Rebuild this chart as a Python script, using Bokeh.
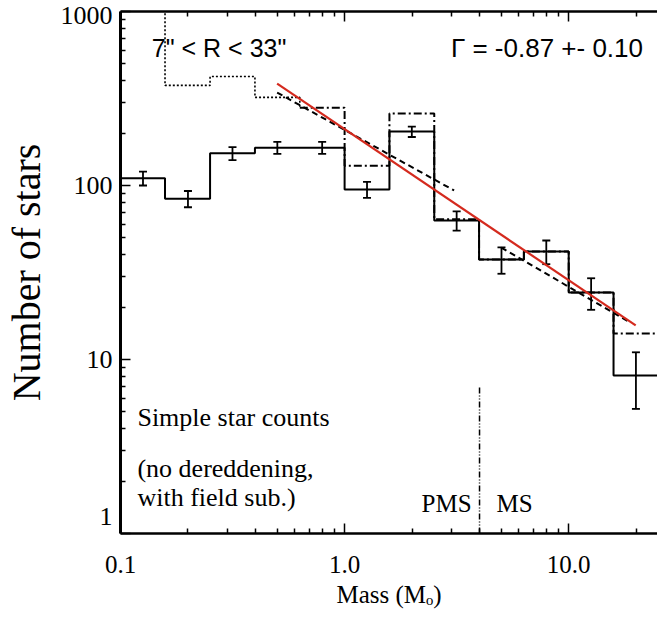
from bokeh.plotting import figure
from bokeh.models import (LogAxis, FixedTicker, PrintfTickFormatter, CustomJSTickFormatter,
                          Label, Whisker, TeeHead, ColumnDataSource, Range1d)
from bokeh.embed import file_html
from bokeh.resources import INLINE

# ---------------- data ----------------
bin_edges = [0.1, 0.158, 0.251, 0.398, 0.631, 1.0, 1.585, 2.512, 3.981, 6.31, 10.0, 15.85, 25.12]
bin_centers = [0.126, 0.2, 0.316, 0.501, 0.794, 1.259, 1.995, 3.162, 5.012, 7.943, 12.59, 19.95]
counts_simple = [110, 84, 153, 165, 165, 95, 204, 63, 37.6, 41.8, 24.3, 8.1]
errors_simple = [10, 9, 13, 13, 13, 10, 14, 8, 6.5, 6.5, 5, 2.9]

dotted_edges = [0.1, 0.158, 0.251, 0.398, 0.631]
dotted_counts = [1200, 376, 423, 321, 280]
dashdot_edges = [0.631, 1.0, 1.585, 2.512, 3.981, 6.31, 10.0, 15.85, 25.12]
dashdot_counts = [280, 130, 259, 64, 37.6, 41.8, 24.3, 14.1, 14.1]

fit_mass = [0.5, 19.9]
fit_counts = [385, 15.7]
pms_fit_mass = [0.5, 3.08]
pms_fit_counts = [342, 93.6]
ms_fit_mass = [5.0, 18.5]
ms_fit_counts = [44, 16.5]

pms_ms_mass = 4.0
pms_ms_counts = [1, 7.1]

x_ticks = [0.1, 1.0, 10.0]
x_minor_ticks = [0.2, 0.3, 0.4, 0.5, 0.6, 0.7, 0.8, 0.9,
                 2, 3, 4, 5, 6, 7, 8, 9, 20]
y_ticks = [1, 10, 100, 1000]
y_tick_labels = ["1", "10", "100", "1000"]
y_minor_ticks = [2, 3, 4, 5, 6, 7, 8, 9, 20, 30, 40, 50, 60, 70, 80, 90,
                 200, 300, 400, 500, 600, 700, 800, 900]

title_region = "7\" < R < 33\""
title_slope = "\u0393 = -0.87 +- 0.10"
note_lines = ["Simple star counts", "(no dereddening,", " with field sub.)"]

# ---------------- figure ----------------
SERIF = "Liberation Serif"
SANS = "Liberation Sans"

p = figure(width=657, height=618, x_axis_type="log", y_axis_type="log",
           x_range=Range1d(0.1, 24.9), y_range=Range1d(1, 1000),
           output_backend="svg", toolbar_location=None, title=None,
           min_border_left=118, min_border_right=0, min_border_top=11, min_border_bottom=85)
p.outline_line_color = None
p.xgrid.visible = False
p.ygrid.visible = False
p.background_fill_color = "white"
p.border_fill_color = "white"

def style_axis(ax, lw):
    ax.axis_line_width = lw
    ax.axis_line_color = "black"
    ax.major_tick_in = 10
    ax.major_tick_out = 0
    ax.minor_tick_in = 5
    ax.minor_tick_out = 0
    ax.major_tick_line_width = 1.5
    ax.minor_tick_line_width = 1.5
    ax.major_tick_line_color = "black"
    ax.minor_tick_line_color = "black"

xa = p.xaxis[0]
xa.ticker = FixedTicker(ticks=x_ticks, minor_ticks=x_minor_ticks)
xa.formatter = PrintfTickFormatter(format="%.1f")
style_axis(xa, 2.5)
xa.major_label_text_font = SERIF
xa.major_label_text_font_size = "25px"
xa.major_label_text_color = "black"
xa.major_label_standoff = 22
xa.axis_label = "Mass (M\u2092)"
xa.axis_label_text_font = SERIF
xa.axis_label_text_font_size = "25px"
xa.axis_label_text_font_style = "normal"
xa.axis_label_text_color = "black"
xa.axis_label_standoff = 5

ya = p.yaxis[0]
ya.ticker = FixedTicker(ticks=y_ticks, minor_ticks=y_minor_ticks)
# the bottom label is nudged up inside the frame (as in the original) with a blank line
ya.formatter = CustomJSTickFormatter(args=dict(tvals=y_ticks, tlabels=y_tick_labels), code="""
    const i = tvals.indexOf(tick);
    const s = i >= 0 ? tlabels[i] : String(tick);
    if (i == 0) return s + "\\n ";
    return s;
""")
style_axis(ya, 3)
ya.major_label_text_font = SERIF
ya.major_label_text_font_size = "26px"
ya.major_label_text_color = "black"
ya.major_label_standoff = 8
ya.axis_label = "Number of stars"
ya.axis_label_text_font = SERIF
ya.axis_label_text_font_size = "40px"
ya.axis_label_text_font_style = "normal"
ya.axis_label_text_color = "black"
ya.axis_label_standoff = 9

top = LogAxis(ticker=FixedTicker(ticks=x_ticks, minor_ticks=x_minor_ticks),
              major_label_text_font_size="1px", major_label_text_color=None,
              major_label_standoff=0)
style_axis(top, 2.5)
p.add_layout(top, "above")

# ---------------- histograms ----------------
p.step(x=dotted_edges, y=dotted_counts, mode="after", line_color="black",
       line_width=1.6, line_dash="2 2")
p.step(x=dashdot_edges, y=dashdot_counts, mode="after", line_color="black",
       line_width=2, line_dash="8 3 2 3")
p.step(x=bin_edges, y=counts_simple + [counts_simple[-1]], mode="after",
       line_color="black", line_width=2)

err_src = ColumnDataSource(dict(
    x=bin_centers,
    lower=[c - e for c, e in zip(counts_simple, errors_simple)],
    upper=[c + e for c, e in zip(counts_simple, errors_simple)]))
p.add_layout(Whisker(source=err_src, base="x", lower="lower", upper="upper",
                     line_color="black", line_width=1.8,
                     lower_head=TeeHead(size=8, line_width=1.8, line_color="black"),
                     upper_head=TeeHead(size=8, line_width=1.8, line_color="black")))

# ---------------- fits ----------------
p.multi_line(xs=[pms_fit_mass, ms_fit_mass], ys=[pms_fit_counts, ms_fit_counts],
             line_color="black", line_width=2, line_dash="6 4")
p.line(x=fit_mass, y=fit_counts, line_color="#d42a1e", line_width=2.2)

# PMS / MS boundary
p.line(x=[pms_ms_mass, pms_ms_mass], y=pms_ms_counts, line_color="black",
       line_width=1.5, line_dash="6 2 1 2 1 2")

# ---------------- texts ----------------
p.add_layout(Label(x=0.138, y=621, text=title_region, text_font=SANS,
                   text_font_size="25px", text_color="black", text_baseline="alphabetic"))
p.add_layout(Label(x=2.98, y=621, text=title_slope, text_font=SANS,
                   text_font_size="26px", text_color="black", text_baseline="alphabetic"))
note_pos = [(0.119, 4.64), (0.119, 2.37), (0.119, 1.61)]
for t, (nx, ny) in zip(note_lines, note_pos):
    p.add_layout(Label(x=nx, y=ny, text=t, text_font=SERIF, text_font_size="26px",
                       text_color="black", text_baseline="alphabetic"))
p.add_layout(Label(x=pms_ms_mass, y=1.49, x_offset=-8, text="PMS", text_align="right",
                   text_font=SERIF, text_font_size="25px", text_color="black",
                   text_baseline="alphabetic"))
p.add_layout(Label(x=pms_ms_mass, y=1.49, x_offset=17, text="MS", text_align="left",
                   text_font=SERIF, text_font_size="25px", text_color="black",
                   text_baseline="alphabetic"))

open("out.html", "w").write(file_html(p, INLINE))
